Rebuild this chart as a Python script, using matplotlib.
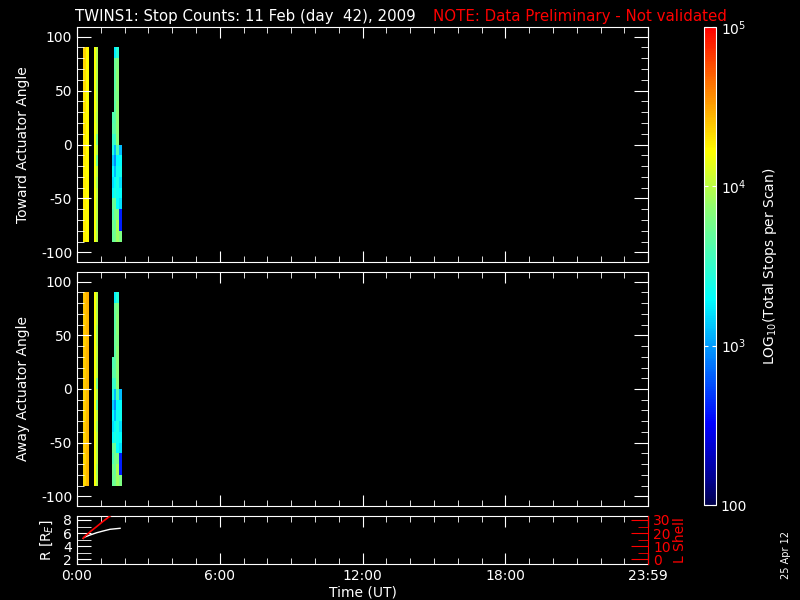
import matplotlib
matplotlib.use('Agg')
import matplotlib.pyplot as plt
import numpy as np
from matplotlib.colors import LinearSegmentedColormap, Normalize, LogNorm
from matplotlib.cm import ScalarMappable
from matplotlib.ticker import MultipleLocator, FixedLocator, FuncFormatter

plt.rcParams['font.family'] = ['DejaVu Sans']
plt.rcParams['axes.unicode_minus'] = False

# scan times (hours UT) and actuator angle bins (deg)
scan_start = [0.25, 0.38, 0.71, 0.80, 1.47, 1.555, 1.65, 1.765]
scan_end = [0.38, 0.50, 0.80, 0.88, 1.555, 1.65, 1.765, 1.89]
angle_edges = list(range(-90, 91, 10))

# log10(total stops per scan), rows = scans, columns = angle bins -85..85
toward_counts = [
    [4.25, 4.27, 4.24, 4.27, 4.25, 4.28, 4.25, 4.27, 4.3, 4.27, 4.3, 4.27, 4.32, 4.29, 4.33, 4.31, 4.34, 4.35],
    [4.22, 4.22, 4.23, 4.22, 4.22, 4.23, 4.22, 4.23, 4.22, 4.22, 4.22, 4.23, 4.22, 4.2, 4.22, 4.23, 4.22, 4.23],
    [4.19, 4.21, 4.19, 4.21, 4.21, 4.19, 4.21, 4.21, 4.19, 4.21, 4.21, 4.19, 4.21, 4.21, 4.19, 4.21, 4.21, 4.19],
    [3.97, 3.92, 4.0, 3.97, 4.0, 3.93, 4.0, 3.7, 3.97, 3.75, 4.0, 3.97, 4.0, 3.96, 3.93, 4.0, 3.97, 4.0],
    [3.7, 3.75, 3.6, 3.7, 3.3, 3.2, 3.3, 3.15, 3.4, 3.5, 3.65, 3.6, np.nan, np.nan, np.nan, np.nan, np.nan, np.nan],
    [3.75, 3.7, 3.75, 3.7, 3.4, 3.3, 3.1, 2.95, 3.1, 3.5, 3.65, 3.65, 3.65, 3.7, 3.65, 3.65, 3.7, 3.25],
    [3.9, 3.95, 3.8, 3.3, 3.35, 3.4, 3.35, 3.3, 3.6, 3.85, 3.85, 3.85, 3.85, 3.8, 3.85, 3.85, 3.8, 3.45],
    [3.8, 2.6, 2.6, 3.2, 3.3, 3.2, 3.35, 3.3, 3.1, np.nan, np.nan, np.nan, np.nan, np.nan, np.nan, np.nan, np.nan, np.nan],
]
away_counts = [
    [4.33, 4.36, 4.34, 4.37, 4.35, 4.37, 4.34, 4.37, 4.36, 4.38, 4.36, 4.37, 4.38, 4.36, 4.39, 4.37, 4.4, 4.4],
    [4.42, 4.43, 4.42, 4.43, 4.42, 4.43, 4.42, 4.43, 4.42, 4.43, 4.42, 4.43, 4.44, 4.42, 4.44, 4.43, 4.44, 4.45],
    [4.21, 4.22, 4.21, 4.22, 4.22, 4.21, 4.22, 4.22, 4.21, 4.22, 4.22, 4.21, 4.22, 4.22, 4.21, 4.22, 4.22, 4.21],
    [3.97, 3.92, 4.0, 3.97, 4.0, 3.93, 4.0, 3.7, 3.97, 3.75, 4.0, 3.97, 4.0, 3.95, 3.93, 4.0, 3.97, 4.0],
    [3.7, 3.75, 3.6, 3.7, 3.3, 3.2, 3.3, 3.15, 3.4, 3.5, 3.65, 3.6, np.nan, np.nan, np.nan, np.nan, np.nan, np.nan],
    [3.75, 3.7, 3.75, 3.7, 3.4, 3.3, 3.1, 2.95, 3.1, 3.5, 3.65, 3.65, 3.65, 3.7, 3.65, 3.65, 3.7, 3.25],
    [3.9, 3.95, 3.8, 3.3, 3.35, 3.4, 3.35, 3.3, 3.6, 3.85, 3.85, 3.85, 3.85, 3.8, 3.85, 3.85, 3.8, 3.45],
    [3.8, 2.6, 2.6, 3.2, 3.3, 3.2, 3.35, 3.3, 3.1, np.nan, np.nan, np.nan, np.nan, np.nan, np.nan, np.nan, np.nan, np.nan],
]

# ephemeris
eph_time = [0.26, 0.30, 0.55, 0.83, 1.10, 1.39, 1.81]
r_earth = [5.2, 5.36, 5.71, 6.06, 6.32, 6.58, 6.73]
l_shell = [16.0, 17.0, 21.0, 25.0, 29.0, 33.0, 39.0]

time_ticks = [0, 6, 12, 18, 24]
time_labels = ['0:00', '6:00', '12:00', '18:00', '23:59']

cmap = LinearSegmentedColormap.from_list('twins', [
    (0.0, (0.0, 0.0, 0.3)),
    (0.05, (0.0, 0.0, 0.55)),
    (0.17, (0.0, 0.0, 1.0)),
    (0.33, (0.0, 0.6, 1.0)),
    (0.43, (0.0, 1.0, 1.0)),
    (0.62, (0.55, 1.0, 0.45)),
    (0.74, (1.0, 1.0, 0.0)),
    (0.87, (1.0, 0.5, 0.0)),
    (1.0, (1.0, 0.0, 0.0)),
])
norm = Normalize(2, 5)

fig = plt.figure(figsize=(8, 6), dpi=100)
fig.patch.set_facecolor('black')

FS = 10


def style_axes(ax, color='white'):
    ax.set_facecolor('black')
    for sp in ax.spines.values():
        sp.set_color(color)
    ax.tick_params(which='both', direction='in', colors=color, top=True, right=True,
                   labelsize=FS)
    ax.tick_params(which='major', length=8)
    ax.tick_params(which='minor', length=4)
    ax.set_xlim(0, 24)
    ax.xaxis.set_major_locator(FixedLocator(time_ticks))
    ax.xaxis.set_minor_locator(MultipleLocator(1))


def angle_panel(rect, counts, ylabel):
    ax = fig.add_axes(rect)
    style_axes(ax)
    for t0, t1, col in zip(scan_start, scan_end, counts):
        vals = np.ma.masked_invalid(np.array(col, dtype=float).reshape(-1, 1))
        ax.pcolormesh([t0, t1], angle_edges, vals, cmap=cmap, norm=norm)
    ax.set_ylim(-109, 109)
    ax.yaxis.set_major_locator(MultipleLocator(50))
    ax.yaxis.set_minor_locator(MultipleLocator(10))
    ax.yaxis.set_major_formatter(FuncFormatter(lambda v, p: '%d' % v))
    ax.tick_params(axis='y', which='major', length=10)
    ax.tick_params(axis='y', which='minor', length=5)
    ax.set_xticklabels([])
    ax.set_ylabel(ylabel, color='white', fontsize=FS, labelpad=8)
    return ax


angle_panel([0.09625, 0.5633, 0.714, 0.3917], toward_counts, 'Toward Actuator Angle')
angle_panel([0.09625, 0.1567, 0.714, 0.39], away_counts, 'Away Actuator Angle')

# ephemeris panel
ax3 = fig.add_axes([0.09625, 0.06, 0.714, 0.08])
style_axes(ax3)
ax3.tick_params(axis='y', right=False)
ax3.plot(eph_time, r_earth, color='white', lw=1)
ax3.set_ylim(1.3, 8.6)
ax3.yaxis.set_major_locator(FixedLocator([2, 4, 6, 8]))
ax3.yaxis.set_minor_locator(MultipleLocator(1))
ax3.tick_params(axis='y', which='both', length=10)
ax3.tick_params(axis='x', which='minor', length=4)
ax3.set_xticklabels(time_labels)
ax3.set_ylabel('R [R$_E$]', color='white', fontsize=FS, labelpad=6)
ax3.set_xlabel('Time (UT)', color='white', fontsize=FS, labelpad=2)
ax3.spines['right'].set_visible(False)

ax4 = ax3.twinx()
ax4.plot(eph_time, l_shell, color='red', lw=1.2)
ax4.set_ylim(-3.5, 33)
ax4.set_xlim(0, 24)
for name, sp in ax4.spines.items():
    sp.set_visible(name == 'right')
ax4.spines['right'].set_color('red')
ax4.tick_params(axis='y', which='both', direction='in', colors='red', labelsize=FS)
ax4.yaxis.set_major_locator(MultipleLocator(10))
ax4.yaxis.set_minor_locator(MultipleLocator(5))
ax4.tick_params(axis='y', which='major', length=12)
ax4.tick_params(axis='y', which='minor', length=7)
ax4.set_ylabel('L Shell', color='red', fontsize=FS, rotation=90, labelpad=2)

# colorbar
cax = fig.add_axes([0.88, 0.1583, 0.015, 0.7967])
cb = fig.colorbar(ScalarMappable(norm=LogNorm(100, 1e5), cmap=cmap), cax=cax)
cb.outline.set_edgecolor('white')
cb.set_ticks([100, 1e3, 1e4, 1e5])
cb.set_ticklabels(['100', '$10^3$', '$10^4$', '$10^5$'])
cax.minorticks_off()
cax.tick_params(which='major', direction='in', colors='white', left=True, right=True,
                length=3, labelsize=FS)
cax.set_ylabel('LOG$_{10}$(Total Stops per Scan)', color='white', fontsize=FS, labelpad=10)

fig.text(0.094, 0.972, 'TWINS1: Stop Counts: 11 Feb (day  42), 2009', color='white',
         fontsize=10.8, va='center')
fig.text(0.541, 0.972, 'NOTE: Data Preliminary - Not validated', color='red',
         fontsize=10.8, va='center')
fig.text(0.982, 0.075, '25 Apr 12', color='white', fontsize=7, rotation=90,
         ha='center', va='center')

fig.savefig('out.png', dpi=100, facecolor='black')
plt.close(fig)
